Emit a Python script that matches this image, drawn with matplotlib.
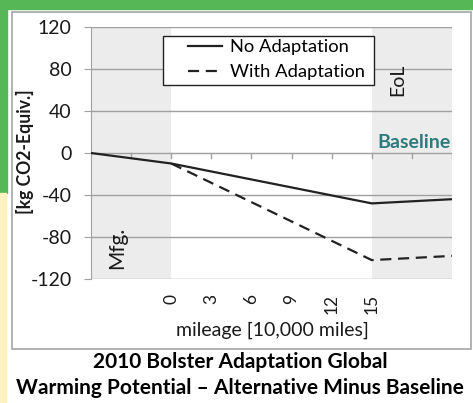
# Recreate the bolster adaptation GWP chart

import matplotlib
matplotlib.use("Agg")
import matplotlib.pyplot as plt
from matplotlib.patches import Rectangle
from matplotlib.lines import Line2D

# mileage positions [10,000 miles]; -6 stands for Mfg., 21 for EoL
mileage = [-6, 0, 15, 21]
no_adaptation = [0, -10, -48, -44]
with_mileage = [0, 15, 21]
with_adaptation = [-10, -102, -98]
xtick_values = [0, 3, 6, 9, 12, 15]
ytick_values = [120, 80, 40, 0, -40, -80, -120]

W, H = 473, 403
plt.rcParams['font.family'] = ['Lato', 'DejaVu Sans']

fig = plt.figure(figsize=(W / 100, H / 100), dpi=100)
fig.patch.set_facecolor('white')


def px(x, y, w, h):
    # pixel box (from top-left) to figure fraction
    return [x / W, 1 - (y + h) / H, w / W, h / H]


# slide background pieces
fig.patches.append(Rectangle((0, 1 - 9 / H), 1, 9 / H, transform=fig.transFigure,
                             color='#55b756', zorder=-2))
fig.patches.append(Rectangle((0, 1 - 193 / H), 7 / W, 193 / H, transform=fig.transFigure,
                             color='#55b756', zorder=-2))
fig.patches.append(Rectangle((0, 0), 6 / W, 1 - 193 / H, transform=fig.transFigure,
                             color='#fdf3c0', zorder=-2))
fig.patches.append(Rectangle((12 / W, 1 - 349 / H), 459 / W, 337 / H, transform=fig.transFigure,
                             facecolor='white', edgecolor='#a6a6a6', lw=1.2, zorder=-1))

ax = fig.add_axes(px(91, 27, 361, 252))
ax.set_zorder(1)
ax.set_xlim(-6, 21)
ax.set_ylim(-120, 120)

ax.axvspan(-6, 0, color='#ececec', lw=0, zorder=0)
ax.axvspan(15, 21, color='#ececec', lw=0, zorder=0)

for y in ytick_values:
    if y != 0:
        ax.axhline(y, color='#a0a0a0', lw=1, zorder=1)

ax.plot(mileage, no_adaptation, color='#222222', lw=1.6, zorder=3)
ax.plot(with_mileage, with_adaptation, color='#222222', lw=1.6,
        dashes=(5, 3), zorder=3)

# x axis drawn at zero with ticks every 3
ax.axhline(0, color='#a0a0a0', lw=1, zorder=2)
for x in range(-3, 22, 3):
    ax.plot([x, x], [0, -4.5], color='#a0a0a0', lw=1, zorder=2)

for s in ['top', 'right', 'bottom']:
    ax.spines[s].set_visible(False)
ax.spines['left'].set_color('#a0a0a0')
ax.set_facecolor('none')

ax.set_yticks(ytick_values)
ax.set_yticklabels([str(v) for v in ytick_values], fontsize=14, color='#1a1a1a')
ax.tick_params(axis='y', length=5, color='#a0a0a0', pad=9)
ax.set_xticks(xtick_values)
ax.set_xticklabels([str(v) for v in xtick_values], rotation=90, fontsize=12.5,
                   color='#1a1a1a')
ax.tick_params(axis='x', length=0, pad=11)

ax.text(-4.05, -90, 'Mfg.', rotation=90, fontsize=15, ha='center', va='center',
        color='#1a1a1a')
ax.text(16.95, 70, 'EoL', rotation=90, fontsize=14, ha='center', va='center',
        color='#1a1a1a')
ax.text(20.9, 2, 'Baseline', fontsize=14, fontweight='bold', ha='right',
        va='bottom', color='#2f7b7b')

# legend: own box, entries placed inside it
ax.add_patch(Rectangle((72 / 361, 1 - 58 / 252), 211 / 361, 49 / 252,
                       transform=ax.transAxes, facecolor='white',
                       edgecolor='#222222', lw=1, zorder=4))
handles = [Line2D([], [], color='#222222', lw=1.6),
           Line2D([], [], color='#222222', lw=1.6, dashes=(5, 3))]
leg = ax.legend(handles, ['No Adaptation', 'With Adaptation'],
                loc='upper left', bbox_to_anchor=(97 / 361, 1 - 12 / 252),
                fontsize=13.2, frameon=False, handlelength=1.85,
                handletextpad=0.45, borderpad=0, borderaxespad=0,
                labelspacing=0.5)
leg.set_zorder(5)

fig.text(25 / W, 1 - 152 / H, '[kg CO2-Equiv.]', rotation=90, fontsize=12.7,
         fontweight='bold', ha='center', va='center', color='#1a1a1a')
fig.text(272 / W, 1 - 330 / H, 'mileage [10,000 miles]', fontsize=14,
         ha='center', va='center', color='#1a1a1a')
fig.text(240 / W, 1 - 362 / H, '2010 Bolster Adaptation Global', fontsize=15,
         fontweight='bold', ha='center', va='center', color='black')
fig.text(240 / W, 1 - 388 / H, 'Warming Potential \u2013 Alternative Minus Baseline',
         fontsize=15, fontweight='bold', ha='center', va='center', color='black')

fig.savefig('out.png', dpi=100)
